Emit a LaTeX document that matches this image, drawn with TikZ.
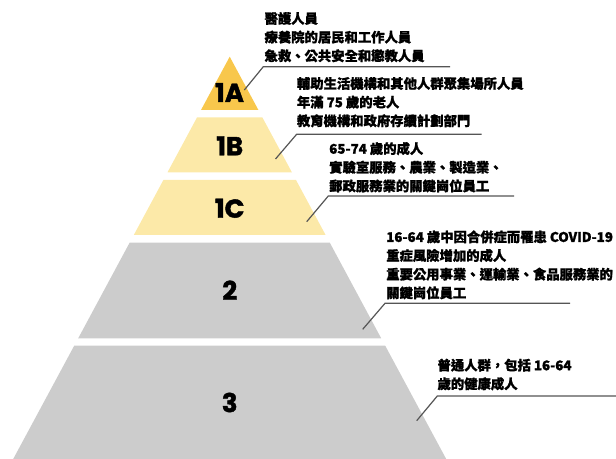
\documentclass[tikz,border=0pt]{standalone}
\usepackage{fontspec}
\newfontfamily\cjk{Noto Sans CJK TC}[FakeBold=1.2]
\newfontfamily\tierfont{Poppins}[FakeBold=1.5]
\definecolor{tierGold}{RGB}{248,199,76}
\definecolor{tierPale}{RGB}{252,233,168}
\definecolor{tierGrey}{RGB}{204,204,204}
\definecolor{leaderGrey}{RGB}{85,85,85}
\tikzset{
  tierlabel/.style={inner sep=0.75pt, font=\tierfont\bfseries\fontsize{19.5}{20}\selectfont},
  notetext/.style={anchor=north west, inner sep=0pt, align=left, font=\cjk\bfseries\fontsize{10}{14}\selectfont},
  leader/.style={draw=leaderGrey, line width=0.9pt},
}
\begin{document}
\begin{tikzpicture}[x=0.75pt,y=0.75pt,yscale=-1,xscale=1]
\useasboundingbox (0,0) rectangle (616,459);

%Shape: Triangle
\fill [tierGold] (229.7,56.7) -- (258.4,110) -- (201,110) -- cycle;
%Shape: Trapezoid
\fill [tierPale] (197.1,117.3) -- (262.3,117.3) -- (291.9,172.3) -- (167.5,172.3) -- cycle;
%Shape: Trapezoid
\fill [tierPale] (163.4,180) -- (296,180) -- (325.6,235) -- (133.8,235) -- cycle;
%Shape: Trapezoid
\fill [tierGrey] (129.6,242.7) -- (329.8,242.7) -- (381.2,338.3) -- (78.2,338.3) -- cycle;
%Shape: Trapezoid
\fill [tierGrey] (74.2,345.7) -- (385.2,345.7) -- (446.2,459) -- (13.2,459) -- cycle;

% Text Node
\draw (229.5,92.5) node [tierlabel] (tierA) {1A};
% Text Node
\draw (229.7,145.8) node [tierlabel] (tierB) {1B};
% Text Node
\draw (229.7,208.3) node [tierlabel] (tierC) {1C};
% Text Node
\draw (229.7,290.3) node [tierlabel] (tierTwo) {2};
% Text Node
\draw (229.7,402.5) node [tierlabel] (tierThree) {3};

%Straight Lines
\coordinate (footA) at (244.3,90);
\coordinate (bendA) at (263.3,66.7);
\coordinate (tailA) at (450,66.7);
\draw [leader] (footA) -- (bendA) -- (tailA);
%Straight Lines
\coordinate (footB) at (275.5,159);
\coordinate (bendB) at (296.7,134.2);
\coordinate (tailB) at (481.7,134.2);
\draw [leader] (footB) -- (bendB) -- (tailB);
%Straight Lines
\coordinate (footC) at (306.7,221.7);
\coordinate (bendC) at (328.3,196);
\coordinate (tailC) at (514,196);
\draw [leader] (footC) -- (bendC) -- (tailC);
%Straight Lines
\coordinate (footTwo) at (362.7,329.3);
\coordinate (bendTwo) at (385,303.3);
\coordinate (tailTwo) at (570,303.3);
\draw [leader] (footTwo) -- (bendTwo) -- (tailTwo);
%Straight Lines
\coordinate (footThree) at (416.7,420.7);
\coordinate (bendThree) at (437.3,396);
\coordinate (tailThree) at (616,396);
\draw [leader] (footThree) -- (bendThree) -- (tailThree);

% Text Node
\draw (264.3,11.8) node [notetext] (noteA) {醫護人員\\療養院的居民和工作人員\\急救、公共安全和懲教人員};
% Text Node
\draw (296.7,76.8) node [notetext] (noteB) {輔助生活機構和其他人群聚集場所人員\\年滿 75 歲的老人\\教育機構和政府存續計劃部門};
% Text Node
\draw (329,141.8) node [notetext] (noteC) {65-74 歲的成人\\實驗室服務、農業、製造業、\\郵政服務業的關鍵崗位員工};
% Text Node
\draw (386,230.2) node [notetext] (noteTwo) {16-64 歲中因合併症而罹患 COVID-19\\重症風險增加的成人\\重要公用事業、運輸業、食品服務業的\\關鍵崗位員工};
% Text Node
\draw (437.3,358.5) node [notetext] (noteThree) {普通人群，包括 16-64\\歲的健康成人};

\end{tikzpicture}
\end{document}
